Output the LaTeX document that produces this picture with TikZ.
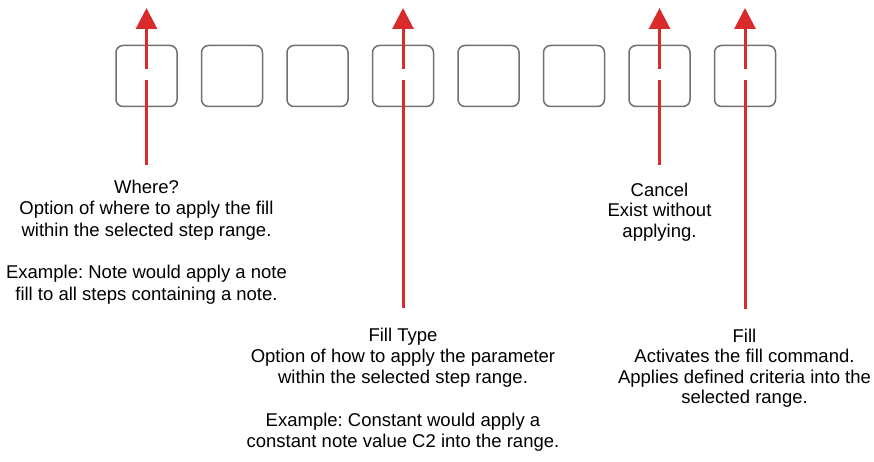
\documentclass[tikz,border=0pt]{standalone}
\usepackage{fontspec}
\setmainfont{Liberation Sans}
\usetikzlibrary{arrows.meta}
\definecolor{boxgray}{RGB}{112,112,112}
\definecolor{arrowred}{RGB}{217,43,43}
\frenchspacing
\begin{document}
\begin{tikzpicture}[x=1pt,y=-1pt,
  stepbox/.style={draw=boxgray,line width=1.5pt,rounded corners=7pt,minimum width=61pt,minimum height=61pt,inner sep=0pt},
  callout/.style={draw=arrowred,line width=3pt},
  calloutarrow/.style={callout,-{Triangle[length=21pt,width=21pt]}},
  desc/.style={align=center,anchor=north,inner sep=0pt,text=black},
  descA/.style={desc,font=\frenchspacing\fontsize{18.5pt}{21.3pt}\selectfont},
  descB/.style={desc,font=\frenchspacing\fontsize{18.5pt}{20.5pt}\selectfont}
]
\useasboundingbox[fill=white] (0,0) rectangle (874,462);
% step boxes
\foreach \i in {1,...,8}{
  \node[stepbox] (b\i) at ({146.5+85.5*(\i-1)},76) {};
}
% descriptions
\node[descA] (t1) at (146.5,180) {Where?\\Option of where to apply the fill\\within the selected step range.\\[21.3pt]Example: Note would apply a note\\fill to all steps containing a note.};
\node[descA] (t4) at (403,327.4) {Fill Type\\Option of how to apply the parameter\\within the selected step range.\\[21.3pt]Example: Constant would apply a\\constant note value C2 into the range.};
\node[descB] (t7) at (659.5,182.7) {Cancel\\Exist without\\applying.};
\node[descB] (t8) at (744.5,328.4) {Fill\\Activates the fill command.\\Applies defined criteria into the\\selected range.};
% arrow coordinates
\foreach \i/\x/\yb in {1/146.5/165, 4/403/308, 7/659.5/165, 8/745/309}{
  \coordinate (s\i) at (\x,\yb);
  \coordinate (l\i) at (\x,80);
  \coordinate (u\i) at (\x,69);
  \coordinate (h\i) at (\x,8);
  \draw[callout] (s\i) -- (l\i);
  \draw[calloutarrow] (u\i) -- (h\i);
}
\end{tikzpicture}
\end{document}
